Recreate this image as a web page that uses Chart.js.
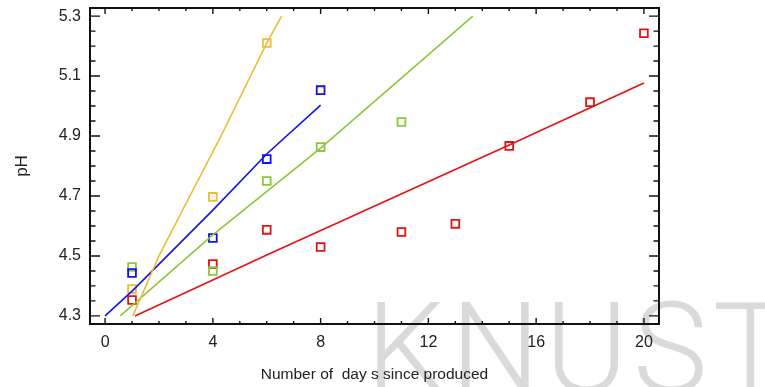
<!DOCTYPE html>
<html>
<head>
<meta charset="utf-8">
<script src="https://cdn.jsdelivr.net/npm/chart.js@4"></script>
<style>
  html, body { margin: 0; padding: 0; background: #fff; }
  #wrap { position: relative; width: 765px; height: 387px; overflow: hidden; }
  #mark {
    position: absolute; left: 366px; top: 286px;
    font-family: Roboto, "Liberation Sans", sans-serif; font-weight: 300;
    font-size: 126px; line-height: 126px; letter-spacing: 5px;
    color: #dadada; white-space: nowrap; z-index: 0;
  }
  canvas { position: absolute; left: 0; top: 0; z-index: 1; }
</style>
</head>
<body>
<div id="wrap">
  <div id="mark">KNUST</div>
  <canvas id="c" width="765" height="387"></canvas>
</div>
<script>
// ---------- 数据 ----------
const X_TICKS = [0, 4, 8, 12, 16, 20];
const Y_TICKS = [4.3, 4.5, 4.7, 4.9, 5.1, 5.3];

// 实测点
const RED_DAYS  = [1, 4, 6, 8, 11, 13, 15, 18, 20];
const RED_PH    = [4.353, 4.473, 4.587, 4.53, 4.58, 4.607, 4.867, 5.013, 5.243];
const YEL_DAYS  = [1, 4, 6];
const YEL_PH    = [4.39, 4.697, 5.21];
const BLUE_DAYS = [1, 4, 6, 8];
const BLUE_PH   = [4.443, 4.56, 4.823, 5.053];
const GRN_DAYS  = [1, 4, 6, 8, 11];
const GRN_PH    = [4.463, 4.45, 4.75, 4.863, 4.947];

// 拟合线
const RED_FIT_X  = [1.11, 6, 15, 20];
const RED_FIT_Y  = [4.30, 4.503, 4.87, 5.077];
const YEL_FIT_X  = [1.03, 2.0, 3.15, 4.3, 6.0, 6.55];
const YEL_FIT_Y  = [4.30, 4.50, 4.70, 4.90, 5.21, 5.30];
const BLUE_FIT_X = [0, 1.05, 4, 6, 8];
const BLUE_FIT_Y = [4.30, 4.387, 4.653, 4.84, 5.003];
const GRN_FIT_X  = [0.56, 4, 8, 11.05, 13.65];
const GRN_FIT_Y  = [4.30, 4.57, 4.86, 5.097, 5.30];

const RED = '#e01414', YEL = '#ebbd3c', BLUE = '#1212f0', GRN = '#8cc63c';

const zip = (xs, ys) => xs.map((x, i) => ({ x, y: ys[i] }));

function fitLine(xs, ys, color) {
  return {
    data: zip(xs, ys), showLine: true, borderColor: color, borderWidth: 1.6,
    pointRadius: 0, pointHoverRadius: 0, fill: false, tension: 0,
  };
}
function marks(xs, ys, color) {
  return {
    data: zip(xs, ys), showLine: false, pointStyle: 'rect', pointRadius: 5.5,
    borderColor: color, borderWidth: 1.8, backgroundColor: 'rgba(0,0,0,0)',
  };
}

// 去掉 Chart.js 为首尾标签预留的边距
function noEdgePad(s) {
  s.paddingTop = 0; s.paddingBottom = 0; s.paddingLeft = 0; s.paddingRight = 0;
}

// ---------- 边框 + 内向刻度 ----------
const framePlugin = {
  id: 'frame',
  afterDraw(chart) {
    const { ctx, chartArea: a, scales: { x, y } } = chart;
    ctx.save();
    ctx.strokeStyle = '#111';
    ctx.lineWidth = 1.4;
    ctx.beginPath();
    for (let d = 0; d <= 20; d++) {
      const px = x.getPixelForValue(d);
      const len = d % 4 === 0 ? 6 : 3;
      ctx.moveTo(px, a.bottom); ctx.lineTo(px, a.bottom - len);
      ctx.moveTo(px, a.top); ctx.lineTo(px, a.top + len);
    }
    for (let k = 0; k <= 20; k++) {
      const v = 4.3 + k * 0.05;
      const py = y.getPixelForValue(v);
      const len = k % 4 === 0 ? 10 : 5.5;
      ctx.moveTo(a.left, py); ctx.lineTo(a.left + len, py);
      ctx.moveTo(a.right, py); ctx.lineTo(a.right - len, py);
    }
    ctx.stroke();
    ctx.lineWidth = 2;
    ctx.strokeRect(a.left, a.top, a.right - a.left, a.bottom - a.top);
    ctx.restore();
  }
};

new Chart(document.getElementById('c'), {
  type: 'scatter',
  data: {
    datasets: [
      fitLine(YEL_FIT_X, YEL_FIT_Y, YEL),
      fitLine(BLUE_FIT_X, BLUE_FIT_Y, BLUE),
      fitLine(GRN_FIT_X, GRN_FIT_Y, GRN),
      fitLine(RED_FIT_X, RED_FIT_Y, RED),
      marks(YEL_DAYS, YEL_PH, YEL),
      marks(BLUE_DAYS, BLUE_PH, BLUE),
      marks(GRN_DAYS, GRN_PH, GRN),
      marks(RED_DAYS, RED_PH, RED),
    ],
  },
  options: {
    responsive: false,
    animation: false,
    layout: { padding: { left: 0, right: 106, top: 8, bottom: 0 } },
    plugins: { legend: { display: false }, tooltip: { enabled: false } },
    scales: {
      x: {
        type: 'linear', min: -0.56, max: 20.56,
        afterBuildTicks: s => { s.ticks = X_TICKS.map(v => ({ value: v })); },
        afterFit: s => { s.height = 63; noEdgePad(s); },
        grid: { display: false, drawTicks: false },
        border: { display: false },
        ticks: { color: '#222', font: { family: 'Liberation Sans', size: 16 }, padding: 9, maxRotation: 0 },
        title: {
          display: true, text: 'Number of  day s since produced', color: '#222',
          font: { family: 'Liberation Sans', size: 15.5 }, padding: { top: 0, bottom: 3 },
        },
      },
      y: {
        type: 'linear', min: 4.273, max: 5.327,
        afterBuildTicks: s => { s.ticks = Y_TICKS.map(v => ({ value: v })); },
        afterFit: s => { s.width = 90; noEdgePad(s); },
        grid: { display: false, drawTicks: false },
        border: { display: false },
        ticks: { color: '#222', font: { family: 'Liberation Sans', size: 16 }, padding: 9,
                 callback: v => v.toFixed(1) },
        title: {
          display: true, text: 'pH', color: '#222',
          font: { family: 'Liberation Sans', size: 17 }, padding: { top: 12, bottom: 0 },
        },
      },
    },
  },
  plugins: [framePlugin],
});
</script>
</body>
</html>
